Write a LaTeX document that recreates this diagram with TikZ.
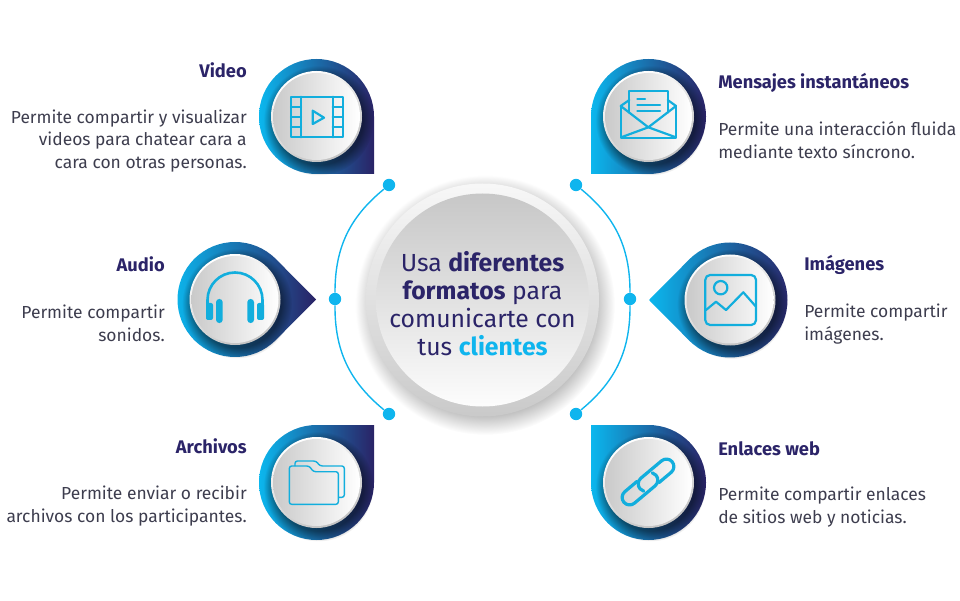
\documentclass[tikz,border=0pt]{standalone}
\usepackage{fontspec}
\setmainfont{Fira Sans}
\usetikzlibrary{fadings}
\definecolor{dropcyan}{HTML}{0BB7EE}
\definecolor{dropnavy}{HTML}{2A2366}
\definecolor{iconblue}{HTML}{12AEDD}
\definecolor{dotblue}{HTML}{0FB5EE}
\definecolor{textnavy}{HTML}{2B2468}
\definecolor{textgrey}{HTML}{3D3D4E}
\pgfdeclareradialshading{softedgeshade}{\pgfpointorigin}{color(0bp)=(black!55!white); color(20bp)=(black!55!white); color(25bp)=(black); color(50bp)=(black)}
\pgfdeclarefading{softedge}{\pgfuseshading{softedgeshade}}
\pgfdeclareradialshading{centreglow}{\pgfpointorigin}{color(0bp)=(black!26); color(21bp)=(black!26); color(25bp)=(white); color(50bp)=(white)}
\tikzset{
    dropbody/.style={left color=dropcyan,right color=dropnavy},
    discshadow/.style={fill=black,path fading=softedge},
    discrim/.style={top color=white,bottom color=black!24,shading angle=25},
    discface/.style={left color=black!21,right color=white},
    iconline/.style={draw=iconblue,line width=0.055cm,line join=round,line cap=round},
    iconthin/.style={draw=iconblue,line width=0.035cm,line join=round,rounded corners=0.06cm},
    dotnode/.style={circle,fill=dotblue,minimum size=0.31cm,inner sep=0pt},
    arcline/.style={draw=dotblue,line width=0.035cm},
    titletext/.style={inner sep=0pt,text=textnavy,font=\fontsize{13}{15}\selectfont\bfseries},
    bodytext/.style={inner sep=0pt,text=textgrey,font=\fontsize{12.4}{16.3}\selectfont}
}
\begin{document}
\begin{tikzpicture}[x=0.025cm,y=0.025cm]
    \useasboundingbox (0,0) rectangle (960,600);%

    % Drawing centre circle
    \shade[shading=centreglow] (485,295) circle (130);%
    \shade[top color=black!3,bottom color=black!21] (482.5,300) circle (116.5);%
    \shade[top color=black!22,bottom color=black!1] (482.5,300) circle (106.5);%
    \node (centre) [text=textnavy,align=center,inner sep=0pt,font=\fontsize{17.6}{19.8}\selectfont] at (482.5,296.5)
        {Usa \textbf{diferentes}\\ \textbf{formatos} para\\ comunicarte con\\ tus \textbf{\textcolor{dotblue}{clientes}}};%

    % Drawing dots
    \node (dotA) [dotnode] at (389,415) {};%
    \node (dotB) [dotnode] at (335,301) {};%
    \node (dotC) [dotnode] at (389,186) {};%
    \node (dotD) [dotnode] at (576,415) {};%
    \node (dotE) [dotnode] at (630,301) {};%
    \node (dotF) [dotnode] at (576,186) {};%

    % Drawing arcs
    \draw [arcline] (dotA) to[bend right=25.4] (dotB);%
    \draw [arcline] (dotB) to[bend right=25.4] (dotC);%
    \draw [arcline] (dotD) to[bend left=25.4] (dotE);%
    \draw [arcline] (dotE) to[bend left=25.4] (dotF);%

    % Drawing drop Video
    \shade[dropbody] (374,426) -- (316.5,426) arc (270:0:57.5) -- cycle;%
    \fill[discshadow] (318.5,479.5) circle (55);%
    \shade[discrim] (316.5,483.5) circle (45.5);%
    \shade[discface] (316.5,483.5) circle (43.5);%

    % Drawing icon Video
    \draw [iconline] (291,462.7) rectangle (342.7,503.3);%
    \draw [iconline] (301,462.7) -- (301,503.3);%
    \draw [iconline] (332.7,462.7) -- (332.7,503.3);%
    \draw [iconline] (291,493.3) -- (301,493.3);%
    \draw [iconline] (291,483.3) -- (301,483.3);%
    \draw [iconline] (291,473.3) -- (301,473.3);%
    \draw [iconline] (332.7,493.3) -- (342.7,493.3);%
    \draw [iconline] (332.7,483.3) -- (342.7,483.3);%
    \draw [iconline] (332.7,473.3) -- (342.7,473.3);%
    \draw [iconline] (312.7,489.3) -- (324,482.3) -- (312.7,476) -- cycle;%

    % Marking text Video
    \node (titleVideo) [titletext,anchor=east] at (247,530) {Video};%
    \node (bodyVideo) [bodytext,anchor=east,align=right] at (247,459)
        {Permite compartir y visualizar\\ videos para chatear cara a\\ cara con otras personas.};%

    % Drawing drop Mensajes
    \shade[dropbody] (591,426) -- (591,483.5) arc (180:-90:57.5) -- cycle;%
    \fill[discshadow] (650.5,479.5) circle (55);%
    \shade[discrim] (648.5,483.5) circle (45.5);%
    \shade[discface] (648.5,483.5) circle (43.5);%

    % Drawing icon Mensajes
    \draw [iconline] (620.7,494) -- (620.7,461.7) -- (676,461.7) -- (676,494);%
    \draw [iconline] (620.7,494) -- (648.3,472.7) -- (676,494);%
    \draw [iconline] (620.7,494) -- (629.3,500);%
    \draw [iconline] (676,494) -- (667.7,500);%
    \draw [iconline] (629.3,487.4) -- (629.3,509.3) -- (667.7,509.3) -- (667.7,487.4);%
    \draw [iconline] (622,463) -- (648.3,472.7) -- (675,463);%
    \draw [iconline] (637.3,500.7) -- (645,500.7);%
    \draw [iconline] (637.3,495) -- (660,495);%
    \draw [iconline] (637.3,489) -- (660,489);%

    % Marking text Mensajes
    \node (titleMensajes) [titletext,anchor=west] at (718,517) {Mensajes instantáneos};%
    \node (bodyMensajes) [bodytext,anchor=west,align=left] at (718,459.5)
        {Permite una interacción fluida\\ mediante texto síncrono.};%

    % Drawing drop Audio
    \shade[dropbody] (316,300.5) -- (275.66,341.16) arc (45:315:57.5) -- cycle;%
    \fill[discshadow] (237,296.5) circle (55);%
    \shade[discrim] (235,300.5) circle (45.5);%
    \shade[discface] (235,300.5) circle (43.5);%

    % Drawing icon Audio
    \draw [iconline,line width=0.065cm] (207.5,282) -- (207.5,300) arc (180:0:27.5) -- (262.5,282);%
    \fill [iconblue,rounded corners=0.05cm] (206,280) rectangle (213,297);%
    \fill [iconblue,rounded corners=0.08cm] (216,277) rectangle (222.7,301);%
    \fill [iconblue,rounded corners=0.08cm] (247.3,277) rectangle (254,301);%
    \fill [iconblue,rounded corners=0.05cm] (257,280) rectangle (264,297);%

    % Marking text Audio
    \node (titleAudio) [titletext,anchor=east] at (165,336) {Audio};%
    \node (bodyAudio) [bodytext,anchor=east,align=right] at (165,276.5)
        {Permite compartir\\ sonidos.};%

    % Drawing drop Imagenes
    \shade[dropbody] (649,300) -- (689.34,340.66) arc (135:-135:57.5) -- cycle;%
    \fill[discshadow] (732,296) circle (55);%
    \shade[discrim] (730,300) circle (45.5);%
    \shade[discface] (730,300) circle (43.5);%

    % Drawing icon Imagenes
    \draw [iconline,rounded corners=0.12cm] (705.3,275) rectangle (756,325);%
    \draw [iconline] (720.7,312.3) circle (6.7);%
    \draw [iconline] (706,290) -- (716,298.3) -- (726,290) -- (743.3,307.7) -- (756,293.3);%

    % Marking text Imagenes
    \node (titleImagenes) [titletext,anchor=west] at (804,335) {Imágenes};%
    \node (bodyImagenes) [bodytext,anchor=west,align=left] at (804,276)
        {Permite compartir\\ imágenes.};%

    % Drawing drop Archivos
    \shade[dropbody] (374,175) -- (374,117.5) arc (0:-270:57.5) -- cycle;%
    \fill[discshadow] (318.5,113.5) circle (55);%
    \shade[discrim] (316.5,117.5) circle (45.5);%
    \shade[discface] (316.5,117.5) circle (43.5);%

    % Drawing icon Archivos
    \draw [iconthin] (289.3,95.7) -- (289.3,134) -- (309.3,134) -- (313.3,128.3) -- (338.3,128.3) -- (338.3,95.7) -- cycle;%
    \draw [iconthin] (295,134) -- (295,139) -- (316,139) -- (320,134) -- (344.3,134) -- (344.3,102.7) -- (338.3,102.7);%

    % Marking text Archivos
    \node (titleArchivos) [titletext,anchor=east] at (247,154) {Archivos};%
    \node (bodyArchivos) [bodytext,anchor=east,align=right] at (247,94)
        {Permite enviar o recibir\\ archivos con los participantes.};%

    % Drawing drop Enlaces
    \shade[dropbody] (591,175) -- (648.5,175) arc (90:-180:57.5) -- cycle;%
    \fill[discshadow] (650.5,113.5) circle (55);%
    \shade[discrim] (648.5,117.5) circle (45.5);%
    \shade[discface] (648.5,117.5) circle (43.5);%

    % Drawing icon Enlaces
    \begin{scope}[shift={(648,118)},rotate=40]
        \draw [iconline,line width=0.08cm] (8,-7.5) -- (24,-7.5) arc (-90:90:7.5) -- (-3,7.5) arc (90:215:7.5);%
        \draw [iconline,line width=0.08cm] (-8,7.5) -- (-24,7.5) arc (90:270:7.5) -- (3,-7.5) arc (-90:35:7.5);%
    \end{scope}

    % Marking text Enlaces
    \node (titleEnlaces) [titletext,anchor=west] at (718,151) {Enlaces web};%
    \node (bodyEnlaces) [bodytext,anchor=west,align=left] at (718,93)
        {Permite compartir enlaces\\ de sitios web y noticias.};%
\end{tikzpicture}
\end{document}
